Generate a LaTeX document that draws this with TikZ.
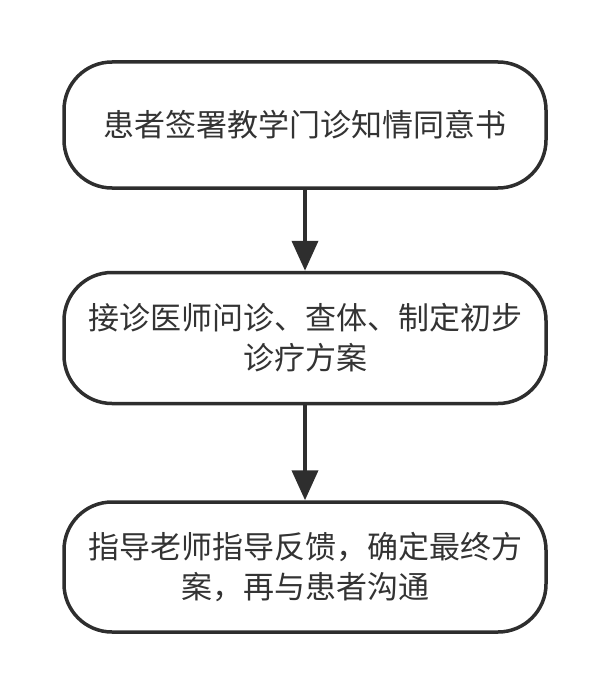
\documentclass[tikz,border=0pt]{standalone}
\usepackage{fontspec}
\newfontfamily\cjk{Noto Sans CJK SC}
\usetikzlibrary{arrows.meta,positioning}
\definecolor{boxgray}{HTML}{2E2E2E}
\definecolor{textgray}{HTML}{333333}

\begin{document}
\begin{tikzpicture}
  [x=1pt,y=-1pt,
   flowbox/.style={draw=boxgray, line width=3.5pt, rounded corners=48pt,
     minimum width=482pt, align=center, text=textgray,
     font=\cjk\fontsize{31}{40}\selectfont},
   flowarrow/.style={draw=boxgray, line width=4pt,
     -{Triangle[width=26pt,length=30pt]}}]

  \useasboundingbox (0,0) rectangle (613,693);

  % the three steps
  \node [flowbox, minimum height=126pt] (consent) at (305,125)
    {患者签署教学门诊知情同意书};
  \node [flowbox, minimum height=131pt] (exam) at (305,338)
    {接诊医师问诊、查体、制定初步\\诊疗方案};
  \node [flowbox, minimum height=130pt] (review) at (305,567)
    {指导老师指导反馈，确定最终方\\案，再与患者沟通};

  % connectors
  \draw [flowarrow] (consent) -- (exam);
  \draw [flowarrow] (exam) -- (review);

\end{tikzpicture}
\end{document}
